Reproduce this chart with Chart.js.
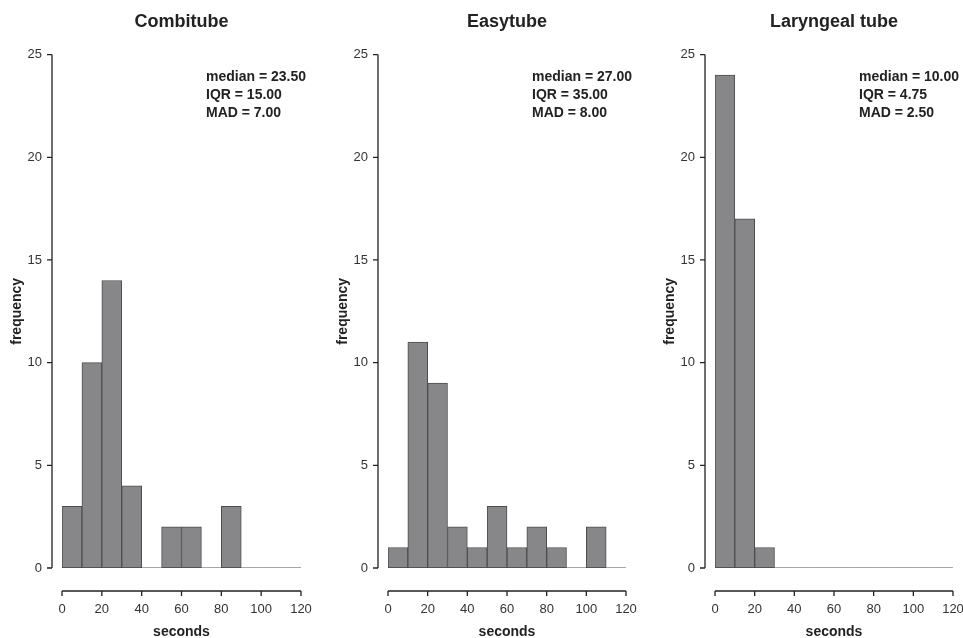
<!DOCTYPE html>
<html>
<head>
<meta charset="utf-8">
<script src="https://cdn.jsdelivr.net/npm/chart.js@4.4.1/dist/chart.umd.min.js"></script>
<style>
    html, body { margin: 0; padding: 0; background: #fff; overflow: hidden; }
    body { width: 963px; height: 638px; position: relative; }
    .panel { position: absolute; top: 0; height: 638px; }
</style>
</head>
<body>
<div class="panel" id="p0" style="left:0px;width:326px"><canvas id="c0"></canvas></div>
<div class="panel" id="p1" style="left:326px;width:325px"><canvas id="c1"></canvas></div>
<div class="panel" id="p2" style="left:653px;width:325px"><canvas id="c2"></canvas></div>
<script>
// bins of 10 seconds, counts
const binEdges = [0, 10, 20, 30, 40, 50, 60, 70, 80, 90, 100, 110, 120];
const combitubeCounts = [3, 10, 14, 4, 0, 2, 2, 0, 3, 0, 0, 0];
const easytubeCounts = [1, 11, 9, 2, 1, 3, 1, 2, 1, 0, 2, 0];
const laryngealCounts = [24, 17, 1, 0, 0, 0, 0, 0, 0, 0, 0, 0];

const panelTitles = ["Combitube", "Easytube", "Laryngeal tube"];
const medians = ["23.50", "27.00", "10.00"];
const iqrs = ["15.00", "35.00", "4.75"];
const mads = ["7.00", "8.00", "2.50"];

const xTicks = [0, 20, 40, 60, 80, 100, 120];
const yTicks = [0, 5, 10, 15, 20, 25];

const allCounts = [combitubeCounts, easytubeCounts, laryngealCounts];

const FONT = "'Liberation Sans', Arial, Helvetica, sans-serif";
const INK = "#222";

// R-style detached axes: y axis left of the data, x axis below it
const rAxes = {
    id: "rAxes",
    afterDraw(chart) {
        const { ctx, chartArea, scales } = chart;
        const x = scales.x, y = scales.y;
        ctx.save();
        ctx.strokeStyle = INK;
        ctx.lineWidth = 1.3;

        const ax = chartArea.left - 10;
        ctx.beginPath();
        ctx.moveTo(ax, y.getPixelForValue(yTicks[0]));
        ctx.lineTo(ax, y.getPixelForValue(yTicks[yTicks.length - 1]));
        yTicks.forEach(v => {
            const py = y.getPixelForValue(v);
            ctx.moveTo(ax, py);
            ctx.lineTo(ax - 5, py);
        });
        ctx.stroke();

        const ay = chartArea.bottom + 23;
        ctx.beginPath();
        ctx.moveTo(x.getPixelForValue(xTicks[0]), ay);
        ctx.lineTo(x.getPixelForValue(xTicks[xTicks.length - 1]), ay);
        xTicks.forEach(v => {
            const px = x.getPixelForValue(v);
            ctx.moveTo(px, ay);
            ctx.lineTo(px, ay + 5);
        });
        ctx.stroke();
        ctx.restore();
    }
};

// median / IQR / MAD block in the top right
const statsText = {
    id: "statsText",
    afterDraw(chart, args, opts) {
        const { ctx, chartArea } = chart;
        ctx.save();
        ctx.fillStyle = INK;
        ctx.font = `bold 14px ${FONT}`;
        ctx.textBaseline = "middle";
        ctx.textAlign = "left";
        opts.lines.forEach((line, i) => {
            ctx.fillText(line, chartArea.left + 144, chartArea.top + 23 + i * 18);
        });
        ctx.restore();
    }
};

function drawHistogram(idx) {
    const counts = allCounts[idx];
    const bars = counts.map((c, i) => ({ x: (binEdges[i] + binEdges[i + 1]) / 2, y: c }));
    const baseline = binEdges.map(e => ({ x: e, y: 0 }));

    new Chart(document.getElementById("c" + idx), {
        type: "bar",
        data: {
            datasets: [{
                type: "bar",
                data: bars,
                backgroundColor: "#87878a",
                borderColor: "#4d4d4d",
                borderWidth: 1,
                borderSkipped: false,
                barPercentage: 1,
                categoryPercentage: 1,
                order: 2
            }, {
                type: "line",
                data: baseline,
                borderColor: "#4d4d4d",
                borderWidth: 1,
                pointRadius: 0,
                order: 1
            }]
        },
        options: {
            responsive: true,
            maintainAspectRatio: false,
            animation: false,
            events: [],
            layout: { padding: { left: 0, right: 25, top: 0, bottom: 0 } },
            plugins: {
                legend: { display: false },
                tooltip: { enabled: false },
                title: {
                    display: true,
                    text: panelTitles[idx],
                    fullSize: false,
                    color: INK,
                    font: { family: FONT, size: 18, weight: "bold" },
                    padding: { top: 11, bottom: 22 }
                },
                statsText: {
                    lines: [`median = ${medians[idx]}`, `IQR = ${iqrs[idx]}`, `MAD = ${mads[idx]}`]
                }
            },
            scales: {
                x: {
                    type: "linear",
                    min: 0,
                    max: 120,
                    offset: false,
                    grid: { display: false, drawTicks: false, offset: false },
                    border: { display: false },
                    ticks: {
                        stepSize: 20,
                        padding: 34,
                        color: "#333",
                        font: { family: FONT, size: 13 },
                        maxRotation: 0
                    },
                    title: {
                        display: true,
                        text: "seconds",
                        color: INK,
                        font: { family: FONT, size: 14, weight: "bold" },
                        padding: { top: 0, bottom: -3 }
                    },
                    afterFit: s => {
                        s.height = 70;
                        s.paddingLeft = 0;
                        s.paddingRight = 0;
                    }
                },
                y: {
                    min: 0,
                    max: 25,
                    grid: { display: false, drawTicks: false },
                    border: { display: false },
                    ticks: {
                        stepSize: 5,
                        padding: 20,
                        color: "#333",
                        font: { family: FONT, size: 13 }
                    },
                    title: {
                        display: true,
                        text: "frequency",
                        color: INK,
                        font: { family: FONT, size: 14, weight: "bold" },
                        padding: { top: 9, bottom: 0 }
                    },
                    afterFit: s => { s.width = 62; }
                }
            }
        },
        plugins: [rAxes, statsText]
    });
}

[0, 1, 2].forEach(drawHistogram);
</script>
</body>
</html>
